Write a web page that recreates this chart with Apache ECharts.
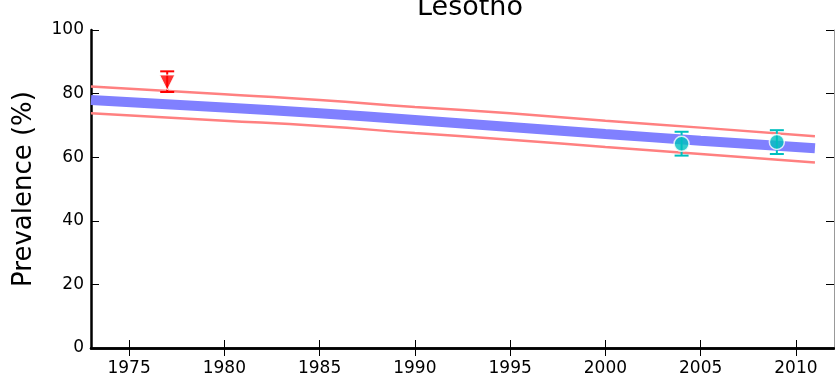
<!DOCTYPE html>
<html><head><meta charset="utf-8">
<script src="https://cdn.jsdelivr.net/npm/echarts@6/dist/echarts.min.js"></script>
<style>html,body{margin:0;padding:0;background:#fff}#c{width:835px;height:382px}</style>
</head><body><div id="c"></div>
<script>
const years = [1973, 1980, 1985, 1990, 1995, 2000, 2005, 2011];
const meanLine = [78.0, 75.6, 73.8, 71.7, 69.5, 67.3, 65.2, 62.8];
const upperLine = [82.2, 79.8, 78.0, 75.8, 73.8, 71.5, 69.3, 66.6];
const lowerLine = [73.8, 71.5, 69.8, 67.6, 65.5, 63.2, 61.0, 58.3];
const triYears = [1977];
const triValues = [83.5];
const triLow = [80.5];
const triHigh = [87.0];
const circYears = [2004, 2009];
const circValues = [64.2, 64.8];
const circLow = [60.5, 61.0];
const circHigh = [68.0, 68.5];
const xTicks = [1975, 1980, 1985, 1990, 1995, 2000, 2005, 2010];
const yTicks = [0, 20, 40, 60, 80, 100];

const font = 'DejaVu Sans';
const pair = (xs, ys) => xs.map((x, i) => [x, ys[i]]);
function errBar(color) {
  return function (params, api) {
    const x = api.value(0), lo = api.value(1), hi = api.value(2);
    const p1 = api.coord([x, lo]), p2 = api.coord([x, hi]);
    const w = 7;
    const st = {stroke: color, lineWidth: 2};
    return {type: 'group', children: [
      {type: 'line', shape: {x1: p1[0], y1: p1[1], x2: p2[0], y2: p2[1]}, style: st},
      {type: 'line', shape: {x1: p1[0] - w, y1: p1[1], x2: p1[0] + w, y2: p1[1]}, style: st},
      {type: 'line', shape: {x1: p2[0] - w, y1: p2[1], x2: p2[0] + w, y2: p2[1]}, style: st}
    ]};
  };
}
const chart = echarts.init(document.getElementById('c'));
const tickStyle = {inside: true, length: 8, lineStyle: {color: '#000', width: 1}};
chart.setOption({
  animation: false,
  title: {text: 'Lesotho', left: 465, textAlign: 'center', top: -11,
    textStyle: {fontFamily: font, fontSize: 27, fontWeight: 'normal', color: '#000'}},
  grid: {left: 91, right: 1, top: 30, bottom: 34},
  xAxis: [{
    type: 'value', min: 1973, max: 2012, position: 'bottom',
    axisLine: {lineStyle: {color: '#000', width: 2.5}},
    axisTick: Object.assign({customValues: xTicks}, tickStyle),
    axisLabel: {customValues: xTicks, formatter: v => String(v),
      fontFamily: font, fontSize: 17, color: '#000', margin: 12},
    splitLine: {show: false}
  }, {
    type: 'value', min: 1973, max: 2012, position: 'top',
    axisLine: {lineStyle: {color: '#000', width: 2.5}},
    axisTick: Object.assign({customValues: xTicks}, tickStyle),
    axisLabel: {show: false}, splitLine: {show: false}
  }],
  yAxis: [{
    type: 'value', min: 0, max: 100, interval: 20, position: 'left',
    name: 'Prevalence (%)', nameLocation: 'middle', nameGap: 54,
    nameTextStyle: {fontFamily: font, fontSize: 26, color: '#000'},
    axisLine: {show: true, lineStyle: {color: '#000', width: 2.5}},
    axisTick: tickStyle,
    axisLabel: {fontFamily: font, fontSize: 17, color: '#000', margin: 7},
    splitLine: {show: false}
  }, {
    type: 'value', min: 0, max: 100, interval: 20, position: 'right',
    axisLine: {show: true, lineStyle: {color: '#999', width: 1}},
    axisTick: tickStyle, axisLabel: {show: false}, splitLine: {show: false}
  }],
  series: [
    {type: 'line', data: pair(years, upperLine), symbol: 'none', smooth: true,
      lineStyle: {color: '#ff8080', width: 2.5}, z: 2},
    {type: 'line', data: pair(years, lowerLine), symbol: 'none', smooth: true,
      lineStyle: {color: '#ff8080', width: 2.5}, z: 2},
    {type: 'line', data: pair(years, meanLine), symbol: 'none', smooth: true,
      lineStyle: {color: '#8080ff', width: 10}, z: 3},
    {type: 'custom', data: triYears.map((y, i) => [y, triLow[i], triHigh[i]]),
      renderItem: errBar('#ff0000'), z: 4},
    {type: 'custom', data: circYears.map((y, i) => [y, circLow[i], circHigh[i]]),
      renderItem: errBar('#00bfbf'), z: 4},
    {type: 'scatter', data: pair(triYears, triValues), symbol: 'triangle', symbolRotate: 180,
      symbolSize: 15, itemStyle: {color: '#ff0000', borderColor: '#fff', borderWidth: 1}, z: 5},
    {type: 'scatter', data: pair(circYears, circValues), symbol: 'circle',
      symbolSize: 15, itemStyle: {color: '#00bfbf', borderColor: '#fff', borderWidth: 1.5}, z: 5}
  ]
});
</script></body></html>
